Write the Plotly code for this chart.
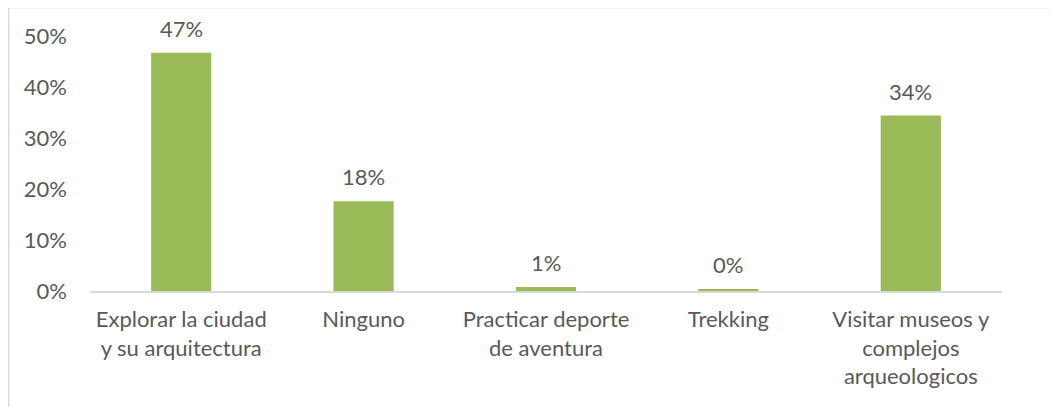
import plotly.graph_objects as go

categories = ["Explorar la ciudad<br>y su arquitectura", "Ninguno",
              "Practicar deporte<br>de aventura", "Trekking",
              "Visitar museos y<br>complejos<br>arqueologicos"]
values = [0.467, 0.176, 0.008, 0.004, 0.344]
labels = ["47%", "18%", "1%", "0%", "34%"]
y_ticks = [0, 0.1, 0.2, 0.3, 0.4, 0.5]
y_tick_labels = ["0%", "10%", "20%", "30%", "40%", "50%"]

FONT = "Lato"
TXT = "#595959"
FS = 22

fig = go.Figure()
fig.add_trace(go.Bar(x=categories, y=values, marker_color="#9BBB59",
                     marker_line_width=0, hoverinfo="skip"))

for c, v, t in zip(categories, values, labels):
    fig.add_annotation(x=c, y=v, text=t, showarrow=False, yanchor="bottom",
                       yshift=9, font=dict(family=FONT, size=FS, color=TXT))

# page body has an 8px margin, so paper coords are offset by 8px
L, R, T, B = 82, 65, 28, 124
W, H = 1059, 407
pw, ph = W - L - R, H - T - B
fig.add_shape(type="rect", xref="paper", yref="paper",
              x0=(0.5 - L) / pw, x1=(1050 - L) / pw,
              y0=(H - B - 430) / ph, y1=(H - B + 0.5) / ph,
              line=dict(color="#D9D9D9", width=1.5), fillcolor="rgba(0,0,0,0)",
              layer="below")

fig.update_layout(
    width=W, height=H, margin=dict(l=L, r=R, t=T, b=B, autoexpand=False),
    plot_bgcolor="white", paper_bgcolor="white", showlegend=False,
    bargap=0.67,
    font=dict(family=FONT, size=FS, color=TXT),
    xaxis=dict(showline=True, linecolor="#D9D9D9", linewidth=1.5,
               showgrid=False, ticks="", ticklabelstandoff=8, automargin=False,
               tickfont=dict(family=FONT, size=FS, color=TXT)),
    yaxis=dict(range=[0, 0.5], tickvals=y_ticks, ticktext=y_tick_labels,
               showgrid=False, zeroline=False, showline=False, ticks="",
               ticklabelstandoff=22, automargin=False,
               tickfont=dict(family=FONT, size=FS, color=TXT)),
)
fig.write_html("out.html")
